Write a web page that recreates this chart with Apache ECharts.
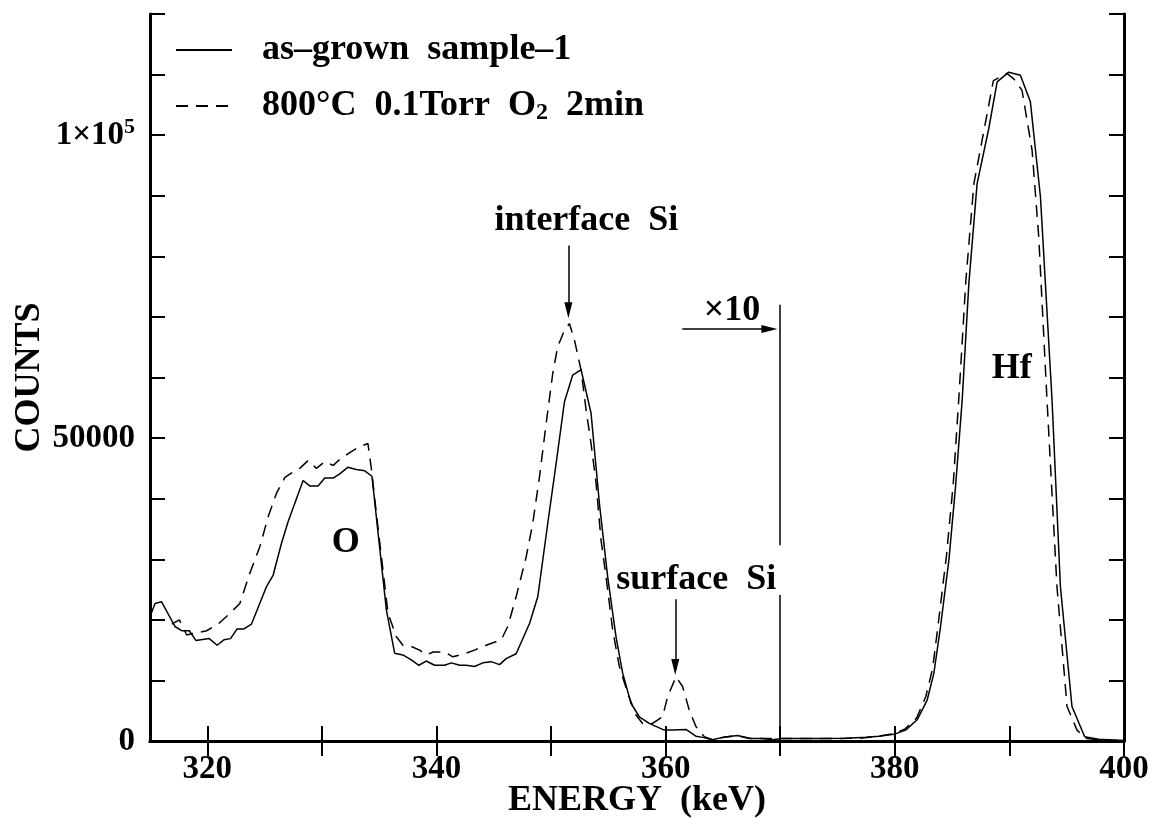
<!DOCTYPE html>
<html>
<head>
<meta charset="utf-8">
<script src="https://cdn.jsdelivr.net/npm/echarts@6/dist/echarts.min.js"></script>
<style>
  html, body { margin: 0; padding: 0; background: #fff; }
  #chart { width: 1150px; height: 819px; }
</style>
</head>
<body>
<div id="chart"></div>
<script>
// energy (keV), counts
const asGrown = [
  [315.0, 20500], [315.44, 22700], [316.0, 23000], [317.18, 18900], [317.76, 18200],
  [318.43, 18200], [319.0, 16600], [320.17, 16900], [320.86, 15800], [321.45, 16700],
  [322.03, 16900], [322.6, 18500], [323.2, 18500], [323.86, 19300], [325.17, 25500],
  [325.75, 27400], [326.47, 32600], [327.05, 36200], [328.36, 43000], [328.94, 42100],
  [329.67, 42100], [330.25, 43400], [330.98, 43400], [331.56, 44100], [332.28, 45200],
  [333.0, 44800], [333.74, 44600], [334.37, 43700], [335.63, 21600], [336.35, 14500],
  [337.07, 14200], [337.8, 13400], [338.47, 12500], [339.1, 13200], [339.84, 12500],
  [340.71, 12500], [341.29, 12900], [342.02, 12500], [342.6, 12500], [343.32, 12300],
  [344.05, 12900], [344.77, 13100], [345.5, 12600], [346.08, 13600], [346.95, 14400],
  [348.12, 19400], [348.84, 23800], [349.71, 35900], [350.44, 45800], [351.17, 56000],
  [351.89, 60400], [352.62, 61300], [353.49, 54100], [354.22, 39200], [354.94, 27100],
  [355.67, 17200], [356.25, 11200], [356.98, 6200], [357.7, 4000], [358.57, 2900],
  [359.88, 1800], [360.6, 1800], [361.77, 1900], [362.64, 800], [363.22, 600],
  [364.09, 200], [364.96, 600], [366.27, 900], [367.29, 400], [368.45, 400],
  [369.32, 200], [370.19, 400], [371.36, 400], [373.5, 400], [375.7, 450],
  [377.5, 600], [378.6, 800], [379.92, 1100], [380.94, 1800], [381.95, 3500],
  [382.83, 6800], [383.41, 11200], [383.99, 18900], [384.72, 29900], [385.3, 42000],
  [385.88, 56300], [386.46, 75500], [387.18, 92000], [388.2, 101100], [388.93, 108800],
  [389.94, 110400], [390.96, 109900], [391.83, 105500], [392.71, 89800], [393.72, 56300],
  [394.45, 25500], [395.46, 5700], [396.57, 700], [397.79, 300], [399.0, 150], [400, 100]
]

const annealed = [
  [316.9, 19300], [317.56, 20000], [318.2, 17500], [318.92, 17800], [319.94, 18200],
  [320.95, 19300], [321.82, 20800], [322.84, 22700], [323.71, 27700], [324.59, 32100],
  [325.31, 37000], [326.04, 40900], [326.77, 43500], [327.49, 44400], [328.07, 45000],
  [328.8, 46300], [329.52, 45000], [330.25, 46100], [330.98, 45500], [331.7, 46700],
  [332.43, 47600], [333.3, 48600], [334.02, 49100], [334.35, 44500], [334.75, 37600],
  [335.77, 21100], [336.5, 17200], [337.07, 15800], [337.8, 15600], [338.53, 15000],
  [339.1, 14200], [339.7, 14700], [340.71, 14700], [341.43, 13900], [342.6, 14500],
  [343.32, 15000], [344.34, 15800], [345.65, 16700], [346.22, 18900], [346.95, 23800],
  [347.83, 30400], [348.4, 35900], [348.99, 43600], [349.57, 52400], [350.15, 60700],
  [350.58, 65100], [351.17, 67800], [351.6, 68900], [352.04, 66200], [352.62, 61200],
  [353.06, 54600], [353.49, 49100], [353.93, 42500], [354.36, 33200], [354.8, 27100],
  [355.38, 18300], [355.96, 12300], [356.69, 7900], [357.41, 4300], [357.99, 2900],
  [358.86, 2900], [359.73, 4000], [360.17, 7300], [360.9, 10600], [361.48, 9000],
  [362.06, 5100], [362.64, 2400], [363.37, 700], [364.09, 200], [365.1, 600],
  [366.27, 900], [367.44, 400], [369.0, 400], [370.19, 400], [373.5, 400],
  [376.87, 450], [378.6, 800], [379.9, 1200], [380.9, 2000], [381.9, 3800],
  [382.7, 7300], [383.3, 12000], [383.8, 19500], [384.5, 30500], [385.1, 42500],
  [385.6, 57000], [386.2, 76000], [386.9, 92000], [387.9, 102000], [388.6, 109000],
  [389.77, 110200], [390.38, 109300], [391.1, 107400], [391.98, 97500], [392.56, 83200],
  [393.28, 56300], [394.15, 25500], [395.03, 5700], [395.9, 1800], [396.63, 450],
  [397.8, 200], [400, 100]
]

const xTicks = [320, 330, 340, 350, 360, 370, 380, 390, 400]
const xLabels = [320, 340, 360, 380, 400]
const yLabels = [0, 50000, 100000]

// text labels: [energy, counts, text]
const peakLabels = [
  [332.08, 32700, 'O'],
  [390.2, 61500, 'Hf'],
  [353.08, 85800, 'interface  Si'],
  [362.67, 26600, 'surface  Si'],
  [365.8, 71100, '×10']
]
// arrows: [[e0, c0], [e1, c1]], end point is the centre of the head
const arrows = [
  [[351.51, 81800], [351.51, 71100]],
  [[360.84, 23400], [360.84, 12200]],
  [[361.45, 68000], [369.05, 68000]]
]
// x10 boundary line, broken where the label sits
const boundary = [
  [[370, 0], [370, 24100]],
  [[370, 32300], [370, 72000]]
]

const FONT = "'Liberation Serif', 'Times New Roman', serif"
const frame = { show: true, lineStyle: { color: '#000', width: 3 } }
const ticks = { show: true, inside: true, length: 15, lineStyle: { color: '#000', width: 2 } }

const chart = echarts.init(document.getElementById('chart'))

const option = {
  animation: false,
  backgroundColor: '#fff',
  textStyle: { fontFamily: FONT, fontWeight: 'bold', color: '#000' },
  grid: { left: 150, right: 26, top: 14, bottom: 78, outerBoundsMode: 'none', containLabel: false },
  legend: {
    orient: 'vertical',
    left: 170,
    top: 27,
    itemWidth: 56,
    itemHeight: 14,
    itemGap: 20,
    data: ['asGrown', 'annealed'],
    itemStyle: { opacity: 0 },
    formatter: function (name) {
      return name === 'asGrown'
        ? '{sp|}as–grown  sample–1'
        : '{sp|}800°C  0.1Torr  O{sub|2}  2min'
    },
    textStyle: {
      fontFamily: FONT, fontWeight: 'bold', fontSize: 36, color: '#000', lineHeight: 36,
      rich: {
        sp: { width: 25 },
        sub: { fontFamily: FONT, fontWeight: 'bold', fontSize: 24, padding: [14, 0, 0, 0] }
      }
    }
  },
  xAxis: [
    {
      type: 'value', min: 315, max: 400, position: 'bottom',
      name: 'ENERGY  (keV)', nameLocation: 'middle', nameGap: 42, nameMoveOverlap: false,
      nameTextStyle: { fontFamily: FONT, fontWeight: 'bold', fontSize: 36, color: '#000', verticalAlign: 'top' },
      axisLine: frame,
      axisTick: Object.assign({ customValues: xTicks }, ticks),
      axisLabel: { customValues: xLabels, fontFamily: FONT, fontWeight: 'bold', fontSize: 33, color: '#000', margin: 12 },
      splitLine: { show: false }
    },
    {
      type: 'value', min: 315, max: 400, position: 'top',
      axisLine: frame,
      axisTick: Object.assign({ customValues: xTicks }, ticks),
      axisLabel: { show: false },
      splitLine: { show: false }
    }
  ],
  yAxis: [
    {
      type: 'value', min: 0, max: 120000, interval: 10000, position: 'left',
      name: 'COUNTS', nameLocation: 'middle', nameGap: 102, nameRotate: 90, nameMoveOverlap: false,
      nameTextStyle: { fontFamily: FONT, fontWeight: 'bold', fontSize: 36, color: '#000' },
      axisLine: frame,
      axisTick: ticks,
      axisLabel: {
        customValues: yLabels,
        margin: 15,
        fontFamily: FONT, fontWeight: 'bold', fontSize: 33, color: '#000',
        formatter: function (v) {
          return v === 100000 ? '1×10{sup|5}' : String(v)
        },
        rich: {
          sup: { fontFamily: FONT, fontWeight: 'bold', fontSize: 22, padding: [0, 0, 16, 0] }
        }
      },
      splitLine: { show: false }
    },
    {
      type: 'value', min: 0, max: 120000, interval: 10000, position: 'right',
      axisLine: frame,
      axisTick: ticks,
      axisLabel: { show: false },
      splitLine: { show: false }
    }
  ],
  series: [
    {
      name: 'asGrown', type: 'line', data: asGrown, symbol: 'none',
      color: '#000', lineStyle: { color: '#000', width: 1.5 }
    },
    {
      name: 'annealed', type: 'line', data: annealed, symbol: 'none',
      color: '#000', lineStyle: { color: '#000', width: 1.5, type: [12, 8] }
    },
    {
      name: 'notes', type: 'line', data: [], symbol: 'none',
      markLine: {
        silent: true,
        animation: false,
        label: { show: false },
        lineStyle: { color: '#000', width: 1.5, type: 'solid' },
        data: arrows.map(a => [
          { coord: a[0], symbol: 'none' },
          { coord: a[1], symbol: 'triangle', symbolSize: [8, 16] }
        ]).concat(boundary.map(b => [
          { coord: b[0], symbol: 'none' },
          { coord: b[1], symbol: 'none' }
        ]))
      },
      markPoint: {
        silent: true,
        animation: false,
        symbol: 'circle',
        symbolSize: 0,
        label: {
          show: true, position: 'inside',
          fontFamily: FONT, fontWeight: 'bold', fontSize: 36, color: '#000',
          formatter: p => p.name
        },
        data: peakLabels.map(l => ({ name: l[2], coord: [l[0], l[1]] }))
      }
    }
  ]
}

chart.setOption(option)
</script>
</body>
</html>
